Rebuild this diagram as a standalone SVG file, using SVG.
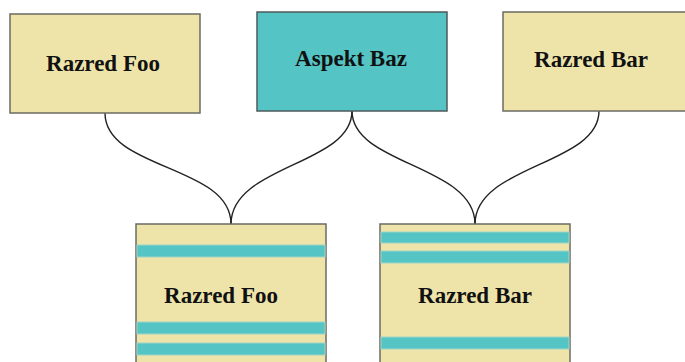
<svg xmlns="http://www.w3.org/2000/svg" width="685" height="362" viewBox="0 0 685 362">
<style>
.cls{fill:#EEE4AA;stroke:#6b6b63;stroke-width:1.5}
.asp{fill:#55C4C4;stroke:#4d5b5b;stroke-width:1.5}
.stripe{fill:#55C4C4;stroke:#9fd6c4;stroke-width:1}
.lbl{font-family:"Liberation Serif","DejaVu Serif",serif;font-weight:bold;font-size:23px;fill:#111;text-anchor:middle}
.con{fill:none;stroke:#222;stroke-width:1.4}
</style>
<rect width="685" height="362" fill="#fff"/>
<g id="connectors">
<path class="con" d="M105,113 C105,170 231,165 231,224"/>
<path class="con" d="M352,111 C352,165 231,165 231,224"/>
<path class="con" d="M352,111 C352,165 475,165 475,224"/>
<path class="con" d="M599,111 C599,165 475,165 475,224"/>
</g>
<g id="razred-foo">
<rect class="cls" x="10" y="14" width="190" height="99"/>
<text class="lbl" x="103" y="71">Razred Foo</text>
</g>
<g id="aspekt-baz">
<rect class="asp" x="257" y="12" width="190" height="99"/>
<text class="lbl" x="351" y="66">Aspekt Baz</text>
</g>
<g id="razred-bar">
<rect class="cls" x="503" y="12" width="190" height="99"/>
<text class="lbl" x="591" y="67">Razred Bar</text>
</g>
<g id="razred-foo-woven">
<rect class="cls" x="136" y="224" width="190" height="150"/>
<rect class="stripe" x="137" y="245" width="188" height="12"/>
<rect class="stripe" x="137" y="322" width="188" height="12"/>
<rect class="stripe" x="137" y="343" width="188" height="12"/>
<text class="lbl" x="221" y="303">Razred Foo</text>
</g>
<g id="razred-bar-woven">
<rect class="cls" x="380" y="224" width="190" height="150"/>
<rect class="stripe" x="381" y="232" width="188" height="11"/>
<rect class="stripe" x="381" y="251" width="188" height="12"/>
<rect class="stripe" x="381" y="337" width="188" height="12"/>
<text class="lbl" x="475" y="303">Razred Bar</text>
</g>
</svg>
